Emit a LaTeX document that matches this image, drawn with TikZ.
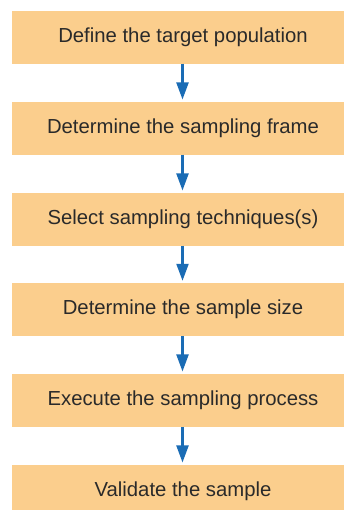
\documentclass[tikz,border=0pt]{standalone}
\usepackage{fontspec}
\setmainfont{Liberation Sans}
\usetikzlibrary{arrows.meta}
\definecolor{boxfill}{HTML}{FBCE8D}
\definecolor{arrowblue}{HTML}{1A6CB5}
\definecolor{txt}{HTML}{2A2A2A}
\begin{document}
\begin{tikzpicture}[x=1pt,y=-1pt,
  stepbox/.style={fill=boxfill, minimum width=342pt, minimum height=52.5pt, inner sep=0pt,
    text=txt, font=\fontsize{20.3}{24}\selectfont},
  flow/.style={draw=arrowblue, line width=2.2pt,
    -{Triangle[length=17pt,width=12pt]}, shorten >=2.4pt}]
\useasboundingbox (0,0) rectangle (344,510);
\clip (0,0) rectangle (344,510);
\node[stepbox] (s1) at (183,37.3)  {Define the target population};
\node[stepbox] (s2) at (183,128.3) {Determine the sampling frame};
\node[stepbox] (s3) at (183,219.3) {Select sampling techniques(s)};
\node[stepbox] (s4) at (183,309.6) {Determine the sample size};
\node[stepbox] (s5) at (183,400.3) {Execute the sampling process};
\node[stepbox] (s6) at (183,491.3) {Validate the sample};
\foreach \a/\b in {s1/s2,s2/s3,s3/s4,s4/s5,s5/s6}
  \draw[flow] ([xshift=-0.5pt]\a.south) -- ([xshift=-0.5pt]\b.north);
\end{tikzpicture}
\end{document}
